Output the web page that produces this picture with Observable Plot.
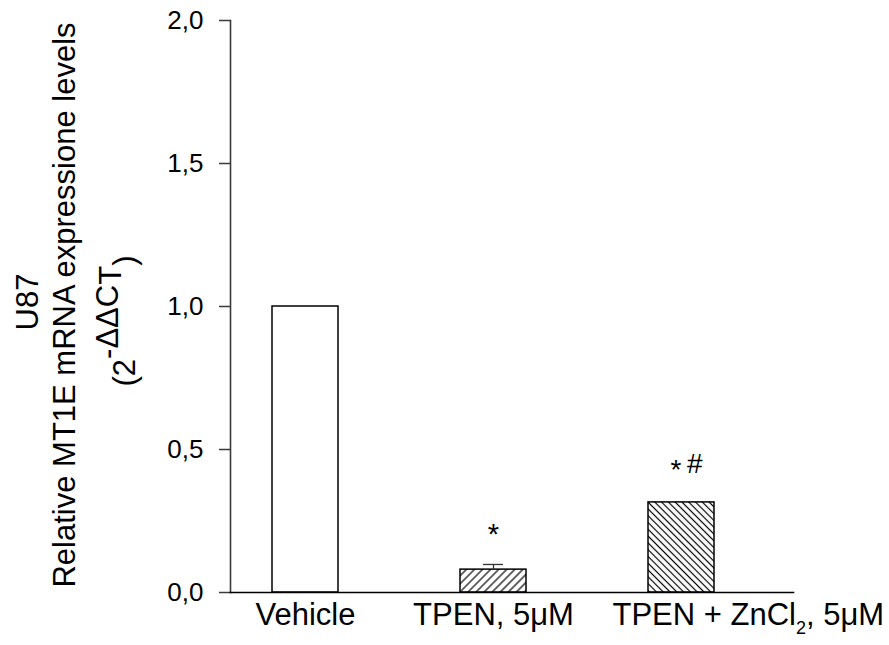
<!DOCTYPE html>
<html><head><meta charset="utf-8">
<script src="https://cdn.jsdelivr.net/npm/d3@7"></script>
<script src="https://cdn.jsdelivr.net/npm/@observablehq/plot@0.6"></script>
<style>body{margin:0;background:#fff} #chart svg{display:block}</style>
</head><body><div id="chart"></div>
<script>
// ---- data ----
const categories = ["Vehicle", "TPEN, 5μM", "TPEN + ZnCl2, 5μM"];
const means = [1.0, 0.08, 0.315];
const sems = [0, 0.018, 0];
const sigMarks = ["", "*", "*#"];
const yTicks = [0, 0.5, 1.0, 1.5, 2.0];

// ---- styles ----
const fills = ["white", "url(#hatchFwd)", "url(#hatchBack)"];
const FONT = "'Liberation Sans', Arial, Helvetica, sans-serif";

const data = categories.map((c, i) => ({cat: c, mean: means[i], sem: sems[i], sig: sigMarks[i]}));
const errData = data.filter(d => d.sem > 0);

const plot = Plot.plot({
  width: 889, height: 645,
  marginLeft: 230, marginRight: 96, marginTop: 20, marginBottom: 53,
  style: {fontFamily: FONT, background: "white", color: "black", overflow: "visible"},
  x: {type: "band", domain: categories, range: [225, 761], paddingInner: 0.649, paddingOuter: 0.25, axis: null},
  y: {domain: [0, 2]},
  color: {type: "identity"},
  marks: [
    Plot.axisY({ticks: yTicks, tickSize: 11, tickPadding: 16, fontSize: 26,
      tickFormat: d => d.toFixed(1).replace(".", ","), label: null, stroke: "#3a3a3a", strokeWidth: 1.5}),
    Plot.frame({anchor: "left", stroke: "#3a3a3a", strokeWidth: 1.6}),
    Plot.barY(data, {x: "cat", y: "mean", fill: (d, i) => fills[i], stroke: "black", strokeWidth: 1.5}),
    Plot.frame({anchor: "bottom", stroke: "black", strokeWidth: 1.6}),
    Plot.ruleX(errData, {x: "cat", y1: "mean", y2: d => d.mean + d.sem, stroke: "#333", strokeWidth: 1.3}),
    Plot.tickY(errData, {x: "cat", y: d => d.mean + d.sem, insetLeft: 23, insetRight: 23, stroke: "#333", strokeWidth: 1.3}),
    Plot.text(data.filter(d => d.sig === "*"), {x: "cat", y: d => d.mean + d.sem, text: "sig", dy: -30, fontSize: 29}),
    Plot.text(data.filter(d => d.sig === "*#"), {x: "cat", y: d => d.mean + d.sem, text: "sig", dy: -38, dx: 5, fontSize: 28}),
    Plot.text(categories.slice(0, 2), {x: d => d, frameAnchor: "bottom", lineAnchor: "bottom", dy: 32, fontSize: 31}),
    Plot.text(categories.slice(2), {x: d => d, frameAnchor: "bottom", lineAnchor: "bottom", textAnchor: "start", dx: -69, dy: 32, fontSize: 31})
  ]
});

const svg = d3.select(plot);
// hatch patterns
const defs = svg.insert("defs", ":first-child");
function hatch(id, spacing, angle) {
  const p = defs.append("pattern").attr("id", id).attr("patternUnits", "userSpaceOnUse")
    .attr("width", spacing).attr("height", spacing).attr("patternTransform", `rotate(${angle})`);
  p.append("rect").attr("width", spacing).attr("height", spacing).attr("fill", "white");
  p.append("line").attr("x1", spacing / 2).attr("x2", spacing / 2).attr("y1", 0).attr("y2", spacing)
    .attr("stroke", "black").attr("stroke-width", 1.2);
}
hatch("hatchFwd", 5.7, 45);
hatch("hatchBack", 4.8, -45);

// subscript in third label, and "*#" arrangement
svg.selectAll("text").each(function () {
  const t = d3.select(this);
  if (this.textContent === categories[2]) {
    t.text(null);
    t.append("tspan").text("TPEN + ZnCl");
    t.append("tspan").attr("dy", 9).attr("font-size", 18).text("2");
    t.append("tspan").attr("dy", -9).text(", 5μM");
  } else if (this.textContent === "*#") {
    t.text(null);
    t.append("tspan").attr("dy", 6).text("*");
    t.append("tspan").attr("dy", -6).text("\u2009#");
  }
});

// y-axis title (three rotated lines)
const yl = svg.append("g").attr("font-family", FONT).attr("font-size", 31).attr("text-anchor", "middle").attr("fill", "black");
yl.append("text").attr("transform", "translate(38,302) rotate(-90)").text("U87");
yl.append("text").attr("transform", "translate(75,305) rotate(-90)").text("Relative MT1E mRNA expressione levels");
const t3 = yl.append("text").attr("transform", "translate(135,321) rotate(-90)");
t3.append("tspan").text("(2");
t3.append("tspan").attr("dy", -17).text("-ΔΔC");
t3.append("tspan").attr("dy", 3).text("T");
t3.append("tspan").attr("dy", 14).text(")");

document.getElementById("chart").appendChild(plot);
</script>
</body></html>
